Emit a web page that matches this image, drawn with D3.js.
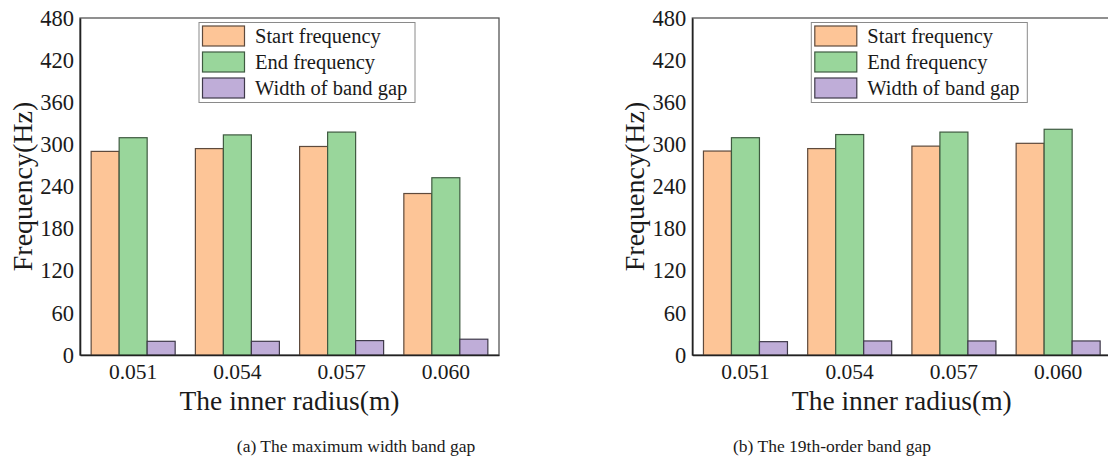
<!DOCTYPE html>
<html lang="en">

<head>
    <meta charset="UTF-8">
    <title>Band gap</title>
    <style>
        body { margin: 0; background: #fff; }
    </style>
</head>

<body>
    <svg width="1108" height="459" id="svg"></svg>
    <script src="https://d3js.org/d3.v7.min.js"></script>
    <script>
        // data
        const categories = ["0.051", "0.054", "0.057", "0.060"]
        const seriesNames = ["Start frequency", "End frequency", "Width of band gap"]
        const yTicks = [0, 60, 120, 180, 240, 300, 360, 420, 480]

        const startA = [290, 294, 297, 230]
        const endA = [309.5, 313.5, 317.5, 252.5]
        const widthA = [19.5, 19.5, 20.5, 22.5]

        const startB = [290.5, 294, 297.5, 301.5]
        const endB = [309.5, 314, 317.5, 321.5]
        const widthB = [19, 20, 20, 20]

        const fills = ["#fdc597", "#99d69b", "#bfadd8"]
        const strokes = ["#5e4a3c", "#3f5a41", "#3f3a4a"]
        const serif = "'Liberation Serif', 'Times New Roman', Times, serif"

        const svg = d3.select("svg#svg")
        const plotW = 419
        const plotH = 337
        const plotTop = 18

        function panel(left, series, caption, captionX) {
            const g = svg.append("g").attr("transform", `translate(${left},${plotTop})`)

            const y = d3.scaleLinear().domain([0, 480]).range([plotH, 0])
            const x0 = d3.scaleBand().domain(categories).range([0, plotW]).paddingInner(0.194).paddingOuter(0.107)
            const x1 = d3.scaleBand().domain(seriesNames).range([0, x0.bandwidth()])

            // frame
            g.append("rect").attr("width", plotW).attr("height", plotH)
                .attr("fill", "none").attr("stroke", "#555").attr("stroke-width", 1.3)

            // bars
            const rows = categories.map((c, i) => ({ cat: c, vals: series.map(s => s[i]) }))
            const grp = g.selectAll("g.grp").data(rows).enter().append("g")
                .attr("class", "grp")
                .attr("transform", d => `translate(${x0(d.cat)},0)`)
            grp.selectAll("rect").data(d => d.vals.map((v, k) => ({ k, v }))).enter().append("rect")
                .attr("x", d => x1(seriesNames[d.k]))
                .attr("y", d => y(d.v))
                .attr("width", x1.bandwidth())
                .attr("height", d => plotH - y(d.v))
                .attr("fill", d => fills[d.k])
                .attr("stroke", d => strokes[d.k])
                .attr("stroke-width", 1.2)

            // axes
            const yAxis = d3.axisLeft(y).tickValues(yTicks).tickSize(0).tickPadding(6)
            const xAxis = d3.axisBottom(x0).tickSize(0).tickPadding(9)
            const ya = g.append("g").call(yAxis).attr("font-family", serif)
            const xa = g.append("g").attr("transform", `translate(0,${plotH})`).call(xAxis).attr("font-family", serif)
            ya.select(".domain").attr("stroke", "#222").attr("stroke-width", 1.6)
            xa.select(".domain").attr("stroke", "#222").attr("stroke-width", 1.6)
            ya.selectAll("text").style("font-size", "22.5px").style("font-family", serif).attr("fill", "#1a1a1a")
            xa.selectAll("text").style("font-size", "21.5px").style("font-family", serif).attr("fill", "#1a1a1a")

            // axis titles
            g.append("text").attr("x", plotW / 2).attr("y", 391.5).attr("text-anchor", "middle")
                .style("font-family", serif).style("font-size", "27.5px").attr("fill", "#1a1a1a")
                .text("The inner radius(m)")
            g.append("text").attr("transform", `translate(-48,${plotH / 2}) rotate(-90)`)
                .attr("text-anchor", "middle").style("font-family", serif).style("font-size", "28px")
                .attr("fill", "#1a1a1a").text("Frequency(Hz)")

            // legend
            const lg = g.append("g").attr("transform", "translate(119,4.5)")
            lg.append("rect").attr("width", 216).attr("height", 80)
                .attr("fill", "#fff").attr("stroke", "#8a8a8a").attr("stroke-width", 1)
            seriesNames.forEach((name, k) => {
                lg.append("rect").attr("x", 3.5).attr("y", 3.5 + k * 26).attr("width", 42).attr("height", 20)
                    .attr("fill", fills[k]).attr("stroke", strokes[k]).attr("stroke-width", 1.2)
                lg.append("text").attr("x", 56).attr("y", 20.5 + k * 26)
                    .style("font-family", serif).style("font-size", "20.5px").attr("fill", "#1a1a1a")
                    .text(name)
            })

            // caption
            svg.append("text").attr("x", captionX).attr("y", 452)
                .attr("text-anchor", "middle").style("font-family", serif).style("font-size", "17.5px")
                .attr("fill", "#1a1a1a").text(caption)
        }

        panel(80, [startA, endA, widthA], "(a) The maximum width band gap", 356)
        panel(692.3, [startB, endB, widthB], "(b) The 19th-order band gap", 832)
    </script>
</body>

</html>
